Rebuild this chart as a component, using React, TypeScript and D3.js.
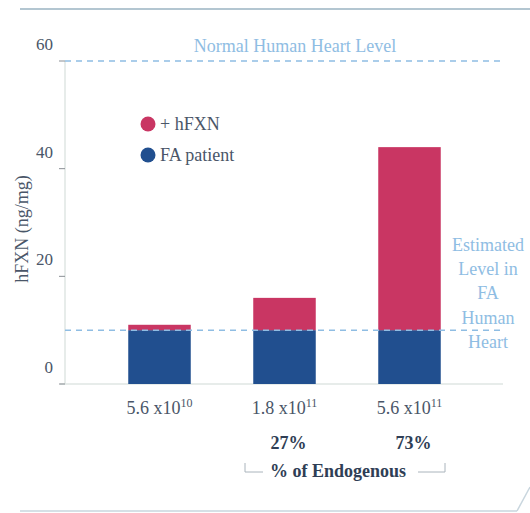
import React from "react";
import * as d3 from "d3";

const categories = ["5.6 x10|10", "1.8 x10|11", "5.6 x10|11"];
const patientValues = [10, 10, 10];
const hfxnValues = [1, 6, 34];
const yTicks = [0, 20, 40, 60];
const percentLabels = ["", "27%", "73%"];
const normalLevel = 60;
const faLevel = 10;
const estimatedLines = ["Estimated", "Level in", "FA", "Human", "Heart"];

const PINK = "#c93663";
const BLUE = "#214f8f";
const LIGHTBLUE = "#8fbde3";
const TEXT = "#4a5668";
const DARK = "#2f3e55";
const FONT = "Liberation Serif, Times New Roman, serif";

export default function App() {
  const W = 530, H = 513;
  const y = d3.scaleLinear().domain([0, 60]).range([384, 61]);
  const x = d3.scaleBand().domain(categories).range([97, 472]).paddingInner(0.5).paddingOuter(0.25);
  const axisX = 65;
  const ts = (size: number, extra: any = {}) => ({ fontFamily: FONT, fontSize: size, ...extra });
  return (
    <svg width={W} height={H} style={{ position: "absolute", left: 0, top: 0, background: "#fff" }}>
      {/* frame */}
      <line x1={20} x2={530} y1={9} y2={9} stroke="#b3c6d1" strokeWidth={2} />
      <line x1={20} x2={517} y1={511} y2={511} stroke="#c9d6de" strokeWidth={1.5} />
      <line x1={517} x2={530} y1={511} y2={487} stroke="#c9d6de" strokeWidth={1.5} />

      {/* axes */}
      <line x1={axisX} x2={axisX} y1={y(60)} y2={y(0)} stroke="#dfe6e3" strokeWidth={1.5} />
      <line x1={60} x2={503} y1={y(0)} y2={y(0)} stroke="#dfe6e3" strokeWidth={1.5} />
      {yTicks.map((t) => (
        <g key={t}>
          <line x1={59} x2={axisX} y1={y(t)} y2={y(t)} stroke="#8a8f95" strokeWidth={1} />
          <text x={53} y={y(t) - 11} textAnchor="end" style={ts(17)} fill={TEXT}>{t}</text>
        </g>
      ))}
      <text transform={`translate(28,229) rotate(-90)`} textAnchor="middle" style={ts(18)} fill={TEXT}>hFXN (ng/mg)</text>

      {/* bars */}
      {categories.map((c, i) => (
        <g key={c}>
          <rect x={x(c)} width={x.bandwidth()} y={y(patientValues[i])} height={y(0) - y(patientValues[i])} fill={BLUE} />
          <rect x={x(c)} width={x.bandwidth()} y={y(patientValues[i] + hfxnValues[i])} height={y(patientValues[i]) - y(patientValues[i] + hfxnValues[i])} fill={PINK} />
        </g>
      ))}

      {/* reference lines */}
      <line x1={axisX} x2={503} y1={y(normalLevel)} y2={y(normalLevel)} stroke={LIGHTBLUE} strokeWidth={1.5} strokeDasharray="6,5" />
      <line x1={axisX} x2={503} y1={y(faLevel)} y2={y(faLevel)} stroke={LIGHTBLUE} strokeWidth={1.5} strokeDasharray="6,5" />
      <text x={295} y={52} textAnchor="middle" style={ts(18)} fill={LIGHTBLUE}>Normal Human Heart Level</text>
      {estimatedLines.map((l, i) => (
        <text key={l} x={488} y={251 + i * 24.2} textAnchor="middle" style={ts(18)} fill={LIGHTBLUE}>{l}</text>
      ))}

      {/* legend */}
      <circle cx={148} cy={124} r={7.5} fill={PINK} />
      <text x={160} y={130} style={ts(18)} fill={TEXT}>+ hFXN</text>
      <circle cx={148} cy={155} r={7.5} fill={BLUE} />
      <text x={160} y={161} style={ts(18)} fill={TEXT}>FA patient</text>

      {/* x labels */}
      {categories.map((c, i) => {
        const [base, exp] = c.split("|");
        const cx = (x(c) as number) + x.bandwidth() / 2;
        return (
          <g key={c}>
            <text x={cx} y={414} textAnchor="middle" style={ts(18)} fill={TEXT}>
              {base}
              <tspan style={{ fontSize: 12 }} dy={-7}>{exp}</tspan>
            </text>
            {percentLabels[i] && (
              <text x={cx + 4} y={449} textAnchor="middle" style={ts(18, { fontWeight: "bold" })} fill={DARK}>{percentLabels[i]}</text>
            )}
          </g>
        );
      })}
      <text x={338} y={477} textAnchor="middle" style={ts(18, { fontWeight: "bold" })} fill={DARK}>% of Endogenous</text>
      <polyline points="245,463 245,472 263,472" fill="none" stroke="#aab4bc" strokeWidth={1} />
      <polyline points="418,472 445,472 445,463" fill="none" stroke="#aab4bc" strokeWidth={1} />
    </svg>
  );
}
